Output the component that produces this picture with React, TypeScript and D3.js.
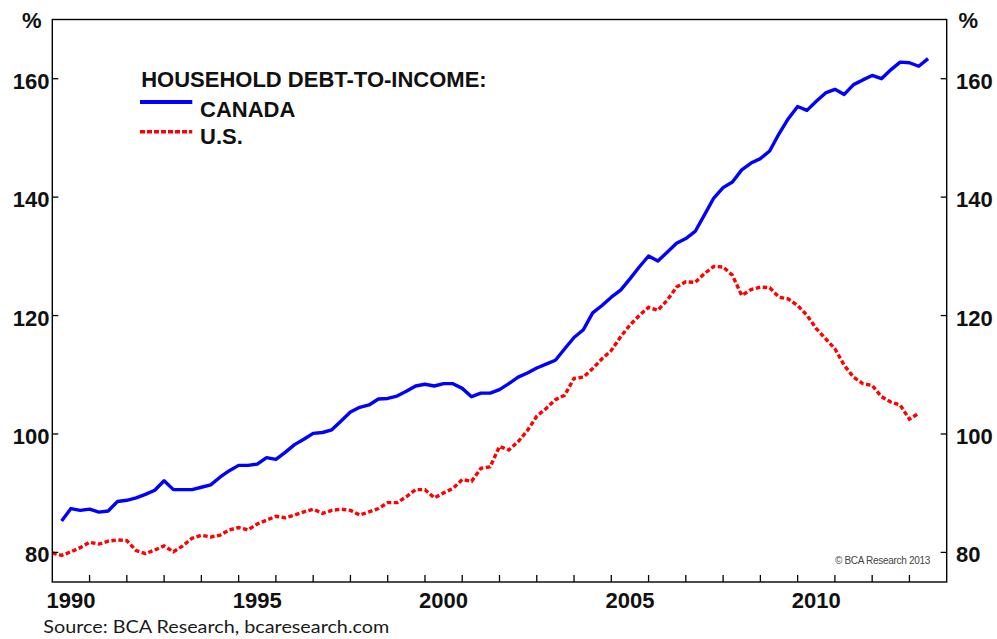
import React from "react";
import * as d3 from "d3";

// ---- data (quarterly) ----
const canadaStart = 1990.25;
const canadaValues = [
  85.3, 87.4, 87.1,
  87.3, 86.8, 87.0, 88.6,
  88.8, 89.2, 89.8, 90.5,
  92.1, 90.6, 90.6, 90.6,
  91.0, 91.4, 92.7, 93.8,
  94.7, 94.7, 94.9, 96.0,
  95.7, 96.9, 98.2, 99.1,
  100.1, 100.25, 100.7, 102.2,
  103.7, 104.5, 104.9, 105.9,
  106.0, 106.4, 107.2, 108.1,
  108.4, 108.1, 108.5, 108.5,
  107.7, 106.3, 106.9, 106.9,
  107.5, 108.5, 109.6, 110.3,
  111.15, 111.8, 112.45, 114.4,
  116.3, 117.6, 120.45, 121.7,
  123.1, 124.3, 126.2, 128.2,
  130.06, 129.2, 130.7, 132.2,
  133.0, 134.2, 137.0, 139.85,
  141.6, 142.55, 144.6, 145.75,
  146.5, 147.8, 150.7, 153.25,
  155.3, 154.65, 156.2, 157.6,
  158.2, 157.35, 159.0, 159.8,
  160.55, 160.0, 161.5, 162.8,
  162.7, 162.1, 163.4,
];

const usStart = 1990;
const usValues = [
  79.9, 79.5, 80.1, 80.8,
  81.7, 81.4, 81.9, 82.1,
  82.0, 80.3, 79.8, 80.4,
  81.1, 80.1, 81.1, 82.4,
  82.9, 82.6, 82.9, 83.8,
  84.2, 83.8, 84.8, 85.45,
  86.1, 85.85, 86.3, 86.85,
  87.3, 86.6, 87.1, 87.3,
  87.1, 86.3, 86.85, 87.4,
  88.4, 88.4, 89.4, 90.6,
  90.6, 89.2, 90.05, 90.8,
  92.3, 92.0, 94.2, 94.45,
  97.9, 97.3, 98.7, 100.6,
  103.0, 104.3, 105.8, 106.55,
  109.4, 109.6, 111.05, 112.7,
  114.1, 116.4, 118.4, 120.0,
  121.4, 120.9, 122.6, 124.8,
  125.7, 125.6, 127.1, 128.3,
  128.2, 126.8, 123.4, 124.4,
  124.8, 124.7, 123.1, 122.8,
  121.7, 120.05, 117.8, 116.1,
  114.4, 111.6, 109.6, 108.5,
  108.2, 106.3, 105.4, 104.9,
  102.5, 103.5,
];

const yTicks = [80, 100, 120, 140, 160];
const xTickYears = d3.range(1991, 2014);
const xLabelYears = [1990, 1995, 2000, 2005, 2010];

const legendTitle = "HOUSEHOLD DEBT-TO-INCOME:";
const seriesNames = ["CANADA", "U.S."];

const FONT = "'Liberation Sans', Arial, sans-serif";

export default function App() {
  const W = 997;
  const H = 639;
  const x = d3.scaleLinear().domain([1990, 2014]).range([52.3, 946.7]);
  const y = d3.scaleLinear().domain([75, 170]).range([582, 19.5]);

  const line = d3
    .line<[number, number]>()
    .x((d) => x(d[0]))
    .y((d) => y(d[1]));

  const canadaPts: [number, number][] = canadaValues.map((v, i) => [canadaStart + i * 0.25, v]);
  const usPts: [number, number][] = usValues.map((v, i) => [usStart + i * 0.25, v]);

  const x0 = x(1990);
  const x1 = x(2014);
  const yTop = y(170);
  const yBot = y(75);

  return (
    <svg
      width={W}
      height={H}
      viewBox={`0 0 ${W} ${H}`}
      style={{ position: "absolute", left: 0, top: 0, background: "#fff" }}
    >
      <rect x={0} y={0} width={W} height={H} fill="#fff" />

      {/* series */}
      <path d={line(usPts) || ""} fill="none" stroke="#ff0000" strokeWidth={3.4} strokeDasharray="4.5 2.5" />
      <path d={line(canadaPts) || ""} fill="none" stroke="#0000ff" strokeWidth={3.4} strokeLinejoin="round" />

      {/* frame */}
      <rect x={x0} y={yTop} width={x1 - x0} height={yBot - yTop} fill="none" stroke="#000" strokeWidth={1.4} />

      {/* y ticks */}
      {yTicks.map((t) => (
        <g key={t}>
          <line x1={x0} x2={x0 + 6} y1={y(t)} y2={y(t)} stroke="#000" strokeWidth={1.3} />
          <line x1={x1 - 6} x2={x1} y1={y(t)} y2={y(t)} stroke="#000" strokeWidth={1.3} />
          <text x={49.5} y={y(t) + 10} textAnchor="end" fontFamily={FONT} fontWeight="bold" fontSize={22} fill="#111">
            {t}
          </text>
          <text x={956} y={y(t) + 10} textAnchor="start" fontFamily={FONT} fontWeight="bold" fontSize={22} fill="#111">
            {t}
          </text>
        </g>
      ))}

      {/* x ticks */}
      {xTickYears.map((yr) => (
        <line key={yr} x1={x(yr)} x2={x(yr)} y1={yBot} y2={yBot - 7} stroke="#000" strokeWidth={1.3} />
      ))}
      {xLabelYears.map((yr) => (
        <text key={yr} x={x(yr + 0.5)} y={607.5} textAnchor="middle" fontFamily={FONT} fontWeight="bold" fontSize={22} fill="#111">
          {yr}
        </text>
      ))}

      {/* % units */}
      <text x={31.7} y={28.3} textAnchor="middle" fontFamily={FONT} fontWeight="bold" fontSize={22} fill="#111">%</text>
      <text x={968.3} y={28.3} textAnchor="middle" fontFamily={FONT} fontWeight="bold" fontSize={22} fill="#111">%</text>

      {/* legend */}
      <text x={141.2} y={87.3} fontFamily={FONT} fontWeight="bold" fontSize={22} fill="#111">{legendTitle}</text>
      <line x1={140} x2={192.3} y1={102} y2={102} stroke="#0000ff" strokeWidth={4.2} />
      <text x={200} y={116.7} fontFamily={FONT} fontWeight="bold" fontSize={22} fill="#111">{seriesNames[0]}</text>
      <line x1={140} x2={192.3} y1={131.7} y2={131.7} stroke="#ff0000" strokeWidth={3.6} strokeDasharray="5 2" />
      <text x={200} y={144.3} fontFamily={FONT} fontWeight="bold" fontSize={22} fill="#111">{seriesNames[1]}</text>

      {/* copyright */}
      <text x={930} y={564} textAnchor="end" fontFamily={FONT} fontSize={10} letterSpacing={-0.3} fill="#444">
        © BCA Research 2013
      </text>

      {/* source */}
      <text x={43.3} y={633.3} fontFamily="Lato, 'Open Sans', sans-serif" fontSize={18} textLength={346} lengthAdjust="spacingAndGlyphs" fill="#1a1a1a">
        Source: BCA Research, bcaresearch.com
      </text>
    </svg>
  );
}
